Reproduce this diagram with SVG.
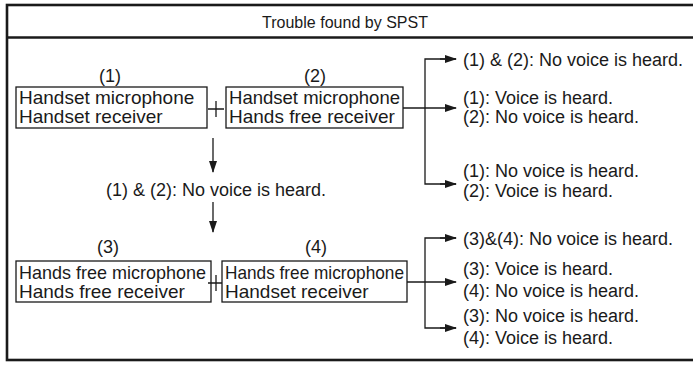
<svg xmlns="http://www.w3.org/2000/svg" width="693" height="365" viewBox="0 0 693 365">
<style>
text{font-family:"Liberation Sans",Arial,sans-serif;fill:#1a1a1a}
.t{font-size:18px}
.b{font-size:19px}
.ttl{font-size:17px}
.box{fill:#fff;stroke:#1a1a1a;stroke-width:1.3}
.frame{fill:none;stroke:#1a1a1a;stroke-width:2.6}
.ln{fill:none;stroke:#1a1a1a;stroke-width:1.3}
</style>
<defs>
<marker id="ar" markerWidth="12" markerHeight="8" refX="11" refY="4" orient="auto" markerUnits="userSpaceOnUse">
<path d="M0,0 L12,4 L0,8 z" fill="#1a1a1a"/>
</marker>
</defs>
<g id="frame">
<rect class="frame" x="7" y="5" width="695" height="355"/>
<line class="frame" x1="7" y1="37.5" x2="702" y2="37.5"/>
<text class="ttl" x="345" y="28" text-anchor="middle" textLength="166" lengthAdjust="spacingAndGlyphs">Trouble found by SPST</text>
</g>
<g id="node1">
<text class="t" x="110" y="82" text-anchor="middle">(1)</text>
<rect class="box" x="16" y="87" width="191" height="41"/>
<text class="b" x="19" y="104">Handset microphone</text>
<text class="b" x="19" y="123">Handset receiver</text>
</g>
<g id="plus1"><path class="ln" d="M208,109 H224 M216,101 V117"/></g>
<g id="node2">
<text class="t" x="315" y="82" text-anchor="middle">(2)</text>
<rect class="box" x="226" y="87" width="177" height="41"/>
<text class="b" x="229" y="104" textLength="171" lengthAdjust="spacingAndGlyphs">Handset microphone</text>
<text class="b" x="229" y="123">Hands free receiver</text>
</g>
<g id="r1a"><text class="t" x="463" y="66">(1) &amp; (2): No voice is heard.</text></g>
<g id="r1b"><text class="t" x="463" y="104">(1): Voice is heard.</text><text class="t" x="463" y="123">(2): No voice is heard.</text></g>
<g id="r1c"><text class="t" x="463" y="177">(1): No voice is heard.</text><text class="t" x="463" y="197">(2): Voice is heard.</text></g>
<g id="mid"><text class="t" x="216" y="196" text-anchor="middle">(1) &amp; (2): No voice is heard.</text></g>
<g id="node3">
<text class="t" x="108" y="253" text-anchor="middle">(3)</text>
<rect class="box" x="16" y="261" width="195" height="41"/>
<text class="b" x="19" y="279" textLength="187" lengthAdjust="spacingAndGlyphs">Hands free microphone</text>
<text class="b" x="19" y="298">Hands free receiver</text>
</g>
<g id="plus2"><path class="ln" d="M208,283 H224 M216,275 V291"/></g>
<g id="node4">
<text class="t" x="316" y="253" text-anchor="middle">(4)</text>
<rect class="box" x="222" y="261" width="185" height="41"/>
<text class="b" x="225" y="279" textLength="179" lengthAdjust="spacingAndGlyphs">Hands free microphone</text>
<text class="b" x="225" y="298">Handset receiver</text>
</g>
<g id="r2a"><text class="t" x="463" y="245">(3)&amp;(4): No voice is heard.</text></g>
<g id="r2b"><text class="t" x="463" y="275">(3): Voice is heard.</text><text class="t" x="463" y="297">(4): No voice is heard.</text></g>
<g id="r2c"><text class="t" x="463" y="322">(3): No voice is heard.</text><text class="t" x="463" y="344">(4): Voice is heard.</text></g>
<g id="connectors">
<line class="ln" x1="403" y1="108" x2="456" y2="108" marker-end="url(#ar)"/>
<path class="ln" d="M456,59 H425 V184 H456" />
<line class="ln" x1="440" y1="59" x2="456" y2="59" marker-end="url(#ar)"/>
<line class="ln" x1="440" y1="184" x2="456" y2="184" marker-end="url(#ar)"/>
<line class="ln" x1="213" y1="138" x2="213" y2="172" marker-end="url(#ar)"/>
<line class="ln" x1="213" y1="202" x2="213" y2="232" marker-end="url(#ar)"/>
<line class="ln" x1="407" y1="282" x2="456" y2="282" marker-end="url(#ar)"/>
<path class="ln" d="M456,238 H425 V328 H456" />
<line class="ln" x1="440" y1="238" x2="456" y2="238" marker-end="url(#ar)"/>
<line class="ln" x1="440" y1="328" x2="456" y2="328" marker-end="url(#ar)"/>
</g>
</svg>
